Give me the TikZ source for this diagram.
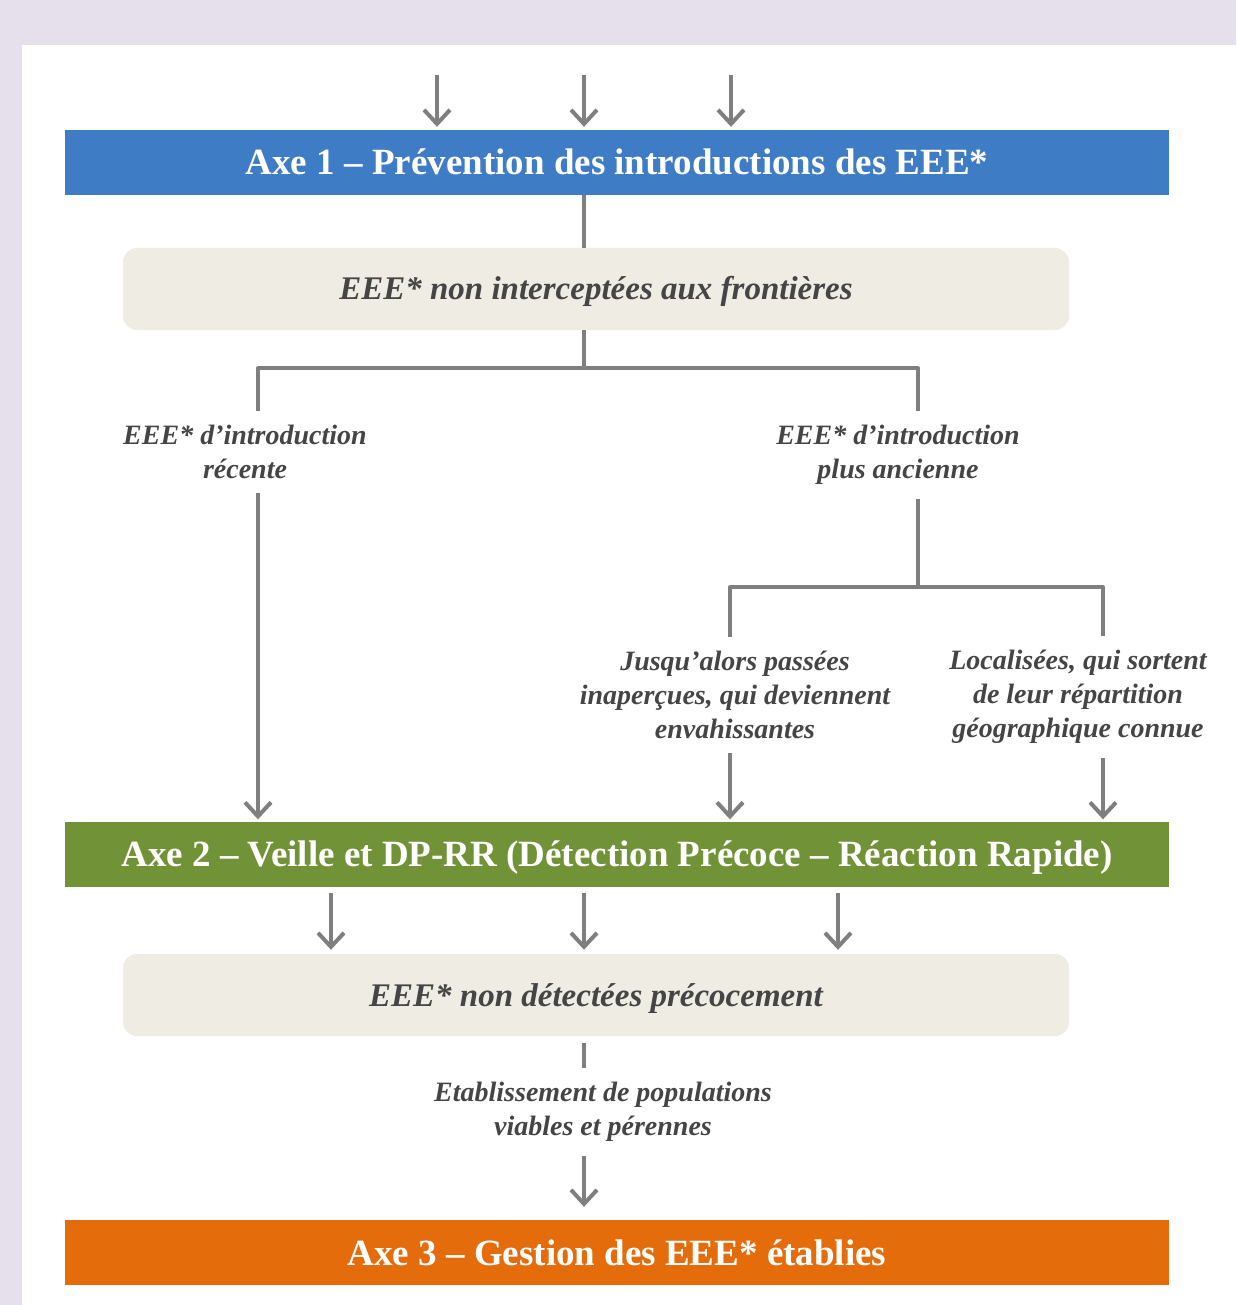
\documentclass[tikz,border=0pt]{standalone}
\usepackage{fontspec}
\setmainfont{Liberation Serif}
\usetikzlibrary{arrows.meta}

\definecolor{lavender}{HTML}{E5E0EC}
\definecolor{axeblue}{HTML}{3F7CC6}
\definecolor{axegreen}{HTML}{729238}
\definecolor{axeorange}{HTML}{E46C0A}
\definecolor{tanbg}{HTML}{EEECE3}
\definecolor{linegray}{HTML}{7F7F7F}
\definecolor{txtgray}{HTML}{454545}

\begin{document}
\begin{tikzpicture}[x=1pt,y=-1pt,
    every node/.style={inner sep=0pt},
    bar/.style={minimum width=1104pt,minimum height=65pt,text=white,
      text height=25pt,text depth=0pt,
      font=\fontsize{37}{40}\selectfont\bfseries},
    tanbox/.style={fill=tanbg,rounded corners=14pt,minimum width=946pt,
      minimum height=82pt,text height=22pt,text depth=0pt,text=txtgray,
      font=\fontsize{33}{38}\selectfont\bfseries\itshape},
    lbl/.style={align=center,inner xsep=0pt,inner ysep=14pt,text=txtgray,
      font=\fontsize{28}{34}\selectfont\bfseries\itshape},
    link/.style={draw=linegray,line width=4pt,line join=round},
    arr/.style={link,-{Straight Barb[length=14pt,width=26pt]}}]
    \useasboundingbox (0,0) rectangle (1236,1305);
    \fill [lavender] (0,0) rectangle (1236,1305);
    \fill [white] (22,45) rectangle (1236,1305);

    \node [bar,fill=axeblue] (axeA) at (617,162.5) {Axe 1 – Prévention des introductions des EEE*};
    \node [tanbox] (stopA) at (596,289) {EEE* non interceptées aux frontières};
    \node [lbl] (recent) at (245,452) {EEE* d’introduction\\récente};
    \node [lbl] (older) at (898,455) {EEE* d’introduction\\plus ancienne};
    \node [lbl] (unseen) at (735,695) {Jusqu’alors passées\\inaperçues, qui deviennent\\envahissantes};
    \node [lbl] (spread) at (1078,697) {Localisées, qui sortent\\de leur répartition\\géographique connue};
    \node [bar,fill=axegreen] (axeB) at (617,854) {Axe 2 – Veille et DP-RR (Détection Précoce – Réaction Rapide)};
    \node [tanbox] (stopB) at (596,995) {EEE* non détectées précocement};
    \node [lbl] (settle) at (603,1112) {Etablissement de populations\\viables et pérennes};
    \node [bar,fill=axeorange] (axeC) at (617,1252.5) {Axe 3 – Gestion des EEE* établies};

    \coordinate (split) at (584,368);
    \coordinate (splitL) at (258,368);
    \coordinate (splitR) at (918,368);
    \coordinate (forkL) at (730,587);
    \coordinate (forkR) at (1103,587);

    \foreach \x [count=\i] in {437,584,731} {
      \coordinate (in\i) at (\x,75);
      \draw [arr,shorten >=3pt] (in\i) -- (in\i |- axeA.north);
    }
    \draw [link] (split |- axeA.south) -- (split |- stopA.north);
    \draw [link] (split |- stopA.south) -- (split);
    \draw [link] (splitL |- recent.north) -- (splitL) -- (splitR) -- (splitR |- older.north);
    \draw [arr,shorten >=2pt] (splitL |- recent.south) -- (splitL |- axeB.north);
    \draw [link] (splitR |- older.south) -- (splitR |- forkL);
    \draw [link] (forkL |- unseen.north) -- (forkL) -- (forkR) -- (forkR |- spread.north);
    \draw [arr,shorten >=2pt] (forkL |- unseen.south) -- (forkL |- axeB.north);
    \draw [arr,shorten >=2pt] (forkR |- spread.south) -- (forkR |- axeB.north);
    \foreach \x [count=\i] in {331,584,838} {
      \coordinate (dn\i) at (\x,920);
      \draw [arr,shorten <=6pt,shorten >=4pt] (dn\i |- axeB.south) -- (dn\i |- stopB.north);
    }
    \draw [link,shorten <=7pt] (split |- stopB.south) -- (split |- settle.north);
    \draw [arr,shorten >=13pt] (split |- settle.south) -- (split |- axeC.north);
\end{tikzpicture}
\end{document}
